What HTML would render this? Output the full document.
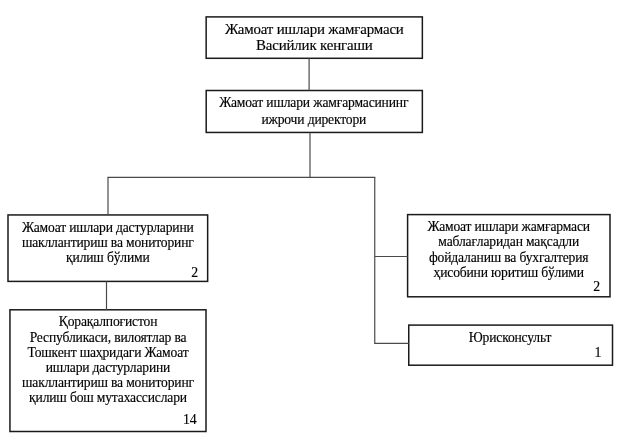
<!DOCTYPE html>
<html><head><meta charset="utf-8"><style>
html,body{margin:0;padding:0;background:#fff;}
body{width:618px;height:447px;position:relative;overflow:hidden;font-family:"Liberation Serif",serif;color:#000;}
svg{position:absolute;left:0;top:0;}
#w{position:absolute;left:0;top:0;width:618px;height:447px;filter:blur(0.4px);}
.t{letter-spacing:-0.16px;}
.t,.n{transform:scaleY(1.0);-webkit-text-stroke:0.15px #000;}
.t{position:absolute;white-space:nowrap;text-align:center;width:300px;}
.n{position:absolute;white-space:nowrap;text-align:right;width:60px;}
</style></head><body>
<div id="w">
<svg width="618" height="447" viewBox="0 0 618 447">
<rect x="206.15" y="16.9" width="216.20" height="41.40" fill="none" stroke="#1a1a1a" stroke-width="1.5"/>
<rect x="206.2" y="90.5" width="216.15" height="41.95" fill="none" stroke="#1a1a1a" stroke-width="1.5"/>
<rect x="8.0" y="214.95" width="199.65" height="66.45" fill="none" stroke="#1a1a1a" stroke-width="1.5"/>
<rect x="9.95" y="309.8" width="196.05" height="121.70" fill="none" stroke="#1a1a1a" stroke-width="1.5"/>
<rect x="407.6" y="214.6" width="202.40" height="82.20" fill="none" stroke="#1a1a1a" stroke-width="1.5"/>
<rect x="408.75" y="325.1" width="203.75" height="40.10" fill="none" stroke="#1a1a1a" stroke-width="1.5"/>
<line x1="309.1" y1="58.3" x2="309.1" y2="90.5" stroke="#4a4a4a" stroke-width="1.2"/>
<line x1="310" y1="132.45" x2="310" y2="177.4" stroke="#4a4a4a" stroke-width="1.2"/>
<line x1="107.4" y1="177.4" x2="375.35" y2="177.4" stroke="#4a4a4a" stroke-width="1.2"/>
<line x1="108" y1="177.4" x2="108" y2="214.95" stroke="#4a4a4a" stroke-width="1.2"/>
<line x1="106.5" y1="281.4" x2="106.5" y2="309.8" stroke="#4a4a4a" stroke-width="1.2"/>
<line x1="374.75" y1="177.4" x2="374.75" y2="344.0" stroke="#4a4a4a" stroke-width="1.2"/>
<line x1="374.75" y1="256.5" x2="407.6" y2="256.5" stroke="#4a4a4a" stroke-width="1.2"/>
<line x1="374.75" y1="343.4" x2="408.75" y2="343.4" stroke="#4a4a4a" stroke-width="1.2"/>
</svg>
<div class="t" style="left:164.3px;top:21.19px;font-size:14.935px;line-height:16.53px;transform-origin:50% 9.87px">Жамоат ишлари жамғармаси</div>
<div class="t" style="left:164.3px;top:37.19px;font-size:14.935px;line-height:16.53px;transform-origin:50% 9.87px">Васийлик кенгаши</div>
<div class="t" style="left:163.8px;top:95.39px;font-size:13.596px;line-height:15.05px;transform-origin:50% 8.99px">Жамоат ишлари жамғармасининг</div>
<div class="t" style="left:163.8px;top:112.29px;font-size:13.596px;line-height:15.05px;transform-origin:50% 8.99px">ижрочи директори</div>
<div class="t" style="left:-42.2px;top:219.89px;font-size:13.596px;line-height:15.05px;transform-origin:50% 8.99px">Жамоат ишлари дастурларини</div>
<div class="t" style="left:-42.2px;top:235.09px;font-size:13.596px;line-height:15.05px;transform-origin:50% 8.99px">шакллантириш ва мониторинг</div>
<div class="t" style="left:-42.2px;top:250.29px;font-size:13.596px;line-height:15.05px;transform-origin:50% 8.99px">қилиш бўлими</div>
<div class="t" style="left:-42px;top:314.49px;font-size:13.596px;line-height:15.05px;transform-origin:50% 8.99px">Қорақалпоғистон</div>
<div class="t" style="left:-42px;top:329.65px;font-size:13.596px;line-height:15.05px;transform-origin:50% 8.99px">Республикаси, вилоятлар ва</div>
<div class="t" style="left:-42px;top:344.81px;font-size:13.596px;line-height:15.05px;transform-origin:50% 8.99px">Тошкент шаҳридаги Жамоат</div>
<div class="t" style="left:-42px;top:359.97px;font-size:13.596px;line-height:15.05px;transform-origin:50% 8.99px">ишлари дастурларини</div>
<div class="t" style="left:-42px;top:375.13px;font-size:13.596px;line-height:15.05px;transform-origin:50% 8.99px">шакллантириш ва мониторинг</div>
<div class="t" style="left:-42px;top:390.29px;font-size:13.596px;line-height:15.05px;transform-origin:50% 8.99px">қилиш бош мутахассислари</div>
<div class="t" style="left:358.7px;top:219.19px;font-size:13.596px;line-height:15.05px;transform-origin:50% 8.99px">Жамоат ишлари жамғармаси</div>
<div class="t" style="left:358.7px;top:234.49px;font-size:13.596px;line-height:15.05px;transform-origin:50% 8.99px">маблағларидан мақсадли</div>
<div class="t" style="left:358.7px;top:249.79px;font-size:13.596px;line-height:15.05px;transform-origin:50% 8.99px">фойдаланиш ва бухгалтерия</div>
<div class="t" style="left:358.7px;top:265.09px;font-size:13.596px;line-height:15.05px;transform-origin:50% 8.99px">ҳисобини юритиш бўлими</div>
<div class="t" style="left:360px;top:330.49px;font-size:13.596px;line-height:15.05px;transform-origin:50% 8.99px">Юрисконсульт</div>
<div class="n" style="left:138.2px;top:264.70px;font-size:13.8px;line-height:15.28px;transform-origin:50% 9.12px">2</div>
<div class="n" style="left:136.7px;top:412.00px;font-size:13.8px;line-height:15.28px;transform-origin:50% 9.12px">14</div>
<div class="n" style="left:540.2px;top:279.40px;font-size:13.8px;line-height:15.28px;transform-origin:50% 9.12px">2</div>
<div class="n" style="left:541.5px;top:344.90px;font-size:13.8px;line-height:15.28px;transform-origin:50% 9.12px">1</div>
</div></body></html>
